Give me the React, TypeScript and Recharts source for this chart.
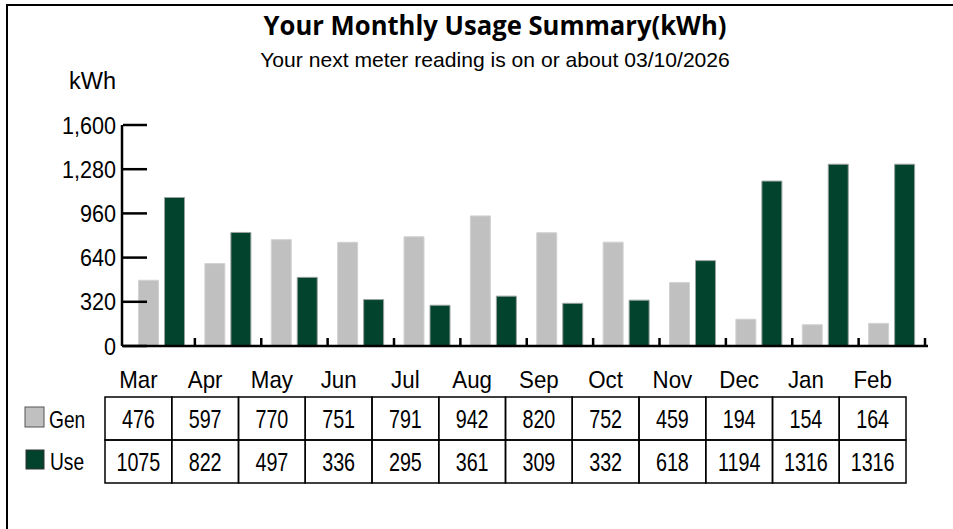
import React from 'react'
import { BarChart, Bar, XAxis, YAxis } from 'recharts'

const months = ['Mar', 'Apr', 'May', 'Jun', 'Jul', 'Aug', 'Sep', 'Oct', 'Nov', 'Dec', 'Jan', 'Feb']
const genValues = [476, 597, 770, 751, 791, 942, 820, 752, 459, 194, 154, 164]
const useValues = [1075, 822, 497, 336, 295, 361, 309, 332, 618, 1194, 1316, 1316]
const yTicks = [0, 320, 640, 960, 1280, 1600]

const title = 'Your Monthly Usage Summary(kWh)'
const subtitle = 'Your next meter reading is on or about 03/10/2026'

const GEN_COLOR = '#c0c0c0'
const USE_COLOR = '#02432d'
const FONT = '"Liberation Sans", Arial, sans-serif'

// plot geometry
const W = 953
const H = 529
const CHART_H = 400
const AXIS_X = 122
const PLOT_RIGHT = 928
const PAD_L = 6.5
const PAD_R = 3
const Y_AXIS_W = 60
const BAND = (PLOT_RIGHT - AXIS_X - PAD_L - PAD_R) / months.length

// table geometry
const TABLE_X = 105
const COL_W = 66.75
const ROW_TOP = 397
const ROW_H = 43

const data = months.map((m, i) => ({ month: m, gen: genValues[i], use: useValues[i] }))

const Txt = ({ x, y, k = 1, anchor = 'middle', size, children, weight, family }: any) => (
  <text
    transform={`translate(${x} ${y}) scale(${k} 1)`}
    textAnchor={anchor}
    fontSize={size}
    fontWeight={weight}
    fontFamily={family || FONT}
    fill="#000"
  >
    {children}
  </text>
)

const YTick = ({ x, y, payload }: any) => (
  <g>
    <line x1={x + 7} x2={x + 31} y1={y} y2={y} stroke="#000" strokeWidth={2.5} />
    <Txt x={x} y={y + 8.5} k={0.9} anchor="end" size={24}>
      {Number(payload.value).toLocaleString('en-US')}
    </Txt>
  </g>
)

const XTick = ({ x, y }: any) => (
  <line x1={x + BAND / 2} x2={x + BAND / 2} y1={y} y2={y - 8} stroke="#000" strokeWidth={2.5} />
)

export default function App() {
  return (
    <div style={{ position: 'absolute', left: 0, top: 0, width: W, height: H, background: '#fff' }}>
      <div style={{ position: 'absolute', left: 0, top: 0 }}>
        <BarChart
          width={W}
          height={CHART_H}
          data={data}
          margin={{ top: 125, bottom: 34, left: AXIS_X - Y_AXIS_W, right: W - PLOT_RIGHT }}
          barSize={20}
          barGap={6}
        >
          <XAxis
            dataKey="month"
            height={20}
            padding={{ left: PAD_L, right: PAD_R }}
            axisLine={{ stroke: '#000', strokeWidth: 2.5 }}
            tickLine={false}
            tickSize={0}
            tickMargin={0}
            interval={0}
            tick={<XTick />}
          />
          <YAxis
            width={Y_AXIS_W}
            domain={[0, 1600]}
            ticks={yTicks}
            interval={0}
            axisLine={{ stroke: '#000', strokeWidth: 2.5 }}
            tickLine={false}
            tickSize={0}
            tickMargin={6}
            tick={<YTick />}
          />
          <Bar dataKey="gen" name="Gen" fill={GEN_COLOR} stroke="#d2d2d2" strokeWidth={1} isAnimationActive={false} />
          <Bar dataKey="use" name="Use" fill={USE_COLOR} stroke="#9aa39f" strokeWidth={1} isAnimationActive={false} />
        </BarChart>
      </div>
      <svg
        width={W}
        height={H}
        style={{ position: 'absolute', left: 0, top: 0, pointerEvents: 'none' }}
      >
        {/* frame */}
        <line x1={7} x2={7} y1={5} y2={H} stroke="#000" strokeWidth={2} />
        <line x1={6} x2={W} y1={5} y2={5} stroke="#000" strokeWidth={2} />

        <Txt x={495} y={35} k={0.95} size={27} weight={700} family='"Open Sans", sans-serif'>
          {title}
        </Txt>
        <Txt x={495} y={67} k={1.03} size={20.5}>
          {subtitle}
        </Txt>
        <Txt x={69} y={89} k={0.98} anchor="start" size={24}>
          kWh
        </Txt>

        {/* month header */}
        {months.map((m, i) => (
          <Txt key={m} x={TABLE_X + COL_W * (i + 0.5)} y={388} k={0.93} size={24}>
            {m}
          </Txt>
        ))}

        {/* data table */}
        {[genValues, useValues].map((row, r) => (
          <g key={r}>
            {row.map((v, i) => (
              <g key={i}>
                <rect
                  x={TABLE_X + COL_W * i}
                  y={ROW_TOP + ROW_H * r}
                  width={COL_W}
                  height={ROW_H}
                  fill="none"
                  stroke="#000"
                  strokeWidth={1.5}
                />
                <Txt x={TABLE_X + COL_W * (i + 0.5)} y={ROW_TOP + ROW_H * r + 31} k={0.76} size={26}>
                  {v}
                </Txt>
              </g>
            ))}
          </g>
        ))}

        {/* legend */}
        <rect x={25} y={407} width={19} height={20} fill={GEN_COLOR} stroke="#555" strokeWidth={1} />
        <Txt x={49} y={428} k={0.8} anchor="start" size={24}>
          Gen
        </Txt>
        <rect x={26} y={450} width={18} height={19} fill={USE_COLOR} stroke="#333" strokeWidth={1} />
        <Txt x={50} y={470} k={0.8} anchor="start" size={24}>
          Use
        </Txt>
      </svg>
    </div>
  )
}
